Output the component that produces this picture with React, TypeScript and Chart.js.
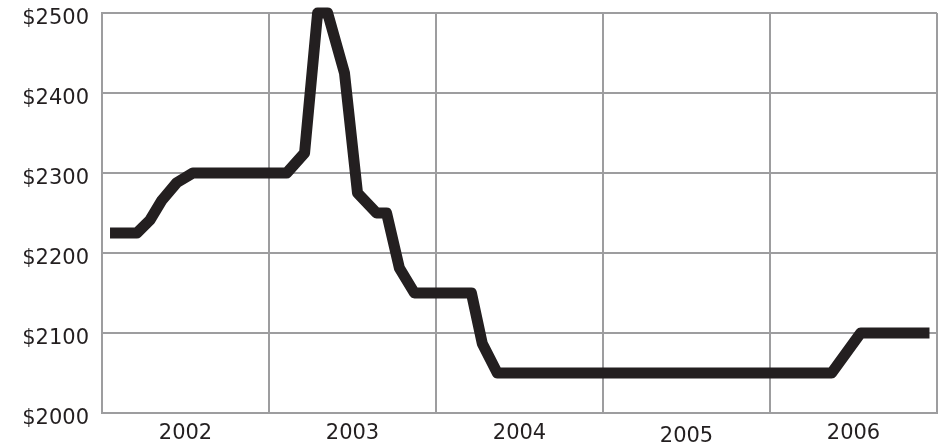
import React, { useEffect, useRef } from "react";
import { Chart, registerables } from "chart.js";

Chart.register(...registerables);

// Time (fractional year) and price
const years: number[] = [
  2002.048, 2002.209, 2002.287, 2002.359, 2002.448, 2002.544,
  2003.106, 2003.213, 2003.291, 2003.351, 2003.452, 2003.53,
  2003.644, 2003.704, 2003.781, 2003.871, 2004.212, 2004.277,
  2004.367, 2006.369, 2006.543, 2006.955,
];
const prices: number[] = [
  2225, 2225, 2241, 2266, 2288, 2300,
  2300, 2325, 2500, 2500, 2425, 2275,
  2250, 2250, 2181, 2150, 2150, 2087,
  2050, 2050, 2100, 2100,
];
const yearTicks: number[] = [2002, 2003, 2004, 2005, 2006, 2007];
const yearLabels: string[] = ["2002", "2003", "2004", "2005", "2006", ""];
const priceMin = 2000;
const priceMax = 2500;
const priceStep = 100;

const FONT = "'DejaVu Sans', Verdana, sans-serif";
const TEXT = "#231f20";
const GRID = "#9d9d9f";

export default function App() {
  const ref = useRef<HTMLCanvasElement | null>(null);

  useEffect(() => {
    document.body.style.margin = "0";
    if (!ref.current) return;
    const chart = new Chart(ref.current, {
      type: "line",
      data: {
        datasets: [
          {
            data: years.map((x, i) => ({ x, y: prices[i] })),
            borderColor: TEXT,
            borderWidth: 11,
            borderJoinStyle: "round",
            borderCapStyle: "butt",
            pointRadius: 0,
            tension: 0,
            fill: false,
            clip: false as any,
          },
        ],
      },
      options: {
        animation: false,
        responsive: true,
        maintainAspectRatio: false,
        layout: { padding: { left: 0, right: 6, top: 0, bottom: 0 } },
        plugins: { legend: { display: false }, tooltip: { enabled: false } },
        scales: {
          x: {
            type: "linear",
            min: yearTicks[0],
            max: yearTicks[yearTicks.length - 1],
            afterBuildTicks: (scale: any) => {
              scale.ticks = yearTicks.map((v) => ({ value: v }));
            },
            afterFit: (scale: any) => {
              scale.height = 33;
              scale.paddingLeft = 0;
              scale.paddingRight = 0;
            },
            grid: { color: GRID, lineWidth: 2, drawTicks: false },
            border: { display: true, color: GRID, width: 2 },
            ticks: {
              padding: 8,
              labelOffset: 83.5,
              color: TEXT,
              maxRotation: 0,
              autoSkip: false,
              font: (ctx: any) => ({
                family: FONT,
                size: 21,
                lineHeight: ctx.tick && ctx.tick.value === 2005 ? 1.5 : 1.15,
              }),
              callback: (v: any) => yearLabels[yearTicks.indexOf(Number(v))] ?? "",
            },
          },
          y: {
            type: "linear",
            min: priceMin,
            max: priceMax,
            afterFit: (scale: any) => {
              scale.width = 102;
              scale.paddingTop = 13;
              scale.paddingBottom = 0;
            },
            grid: { color: GRID, lineWidth: 2, drawTicks: false },
            border: { display: true, color: GRID, width: 2 },
            ticks: {
              stepSize: priceStep,
              padding: 13,
              labelOffset: 6,
              color: TEXT,
              font: { family: FONT, size: 21, lineHeight: 1.24 },
              callback: (v: any) => "$" + v,
            },
          },
        },
      },
    });
    return () => chart.destroy();
  }, []);

  return (
    <div style={{ width: 943, height: 446, position: "relative" }}>
      <canvas ref={ref} />
    </div>
  );
}
